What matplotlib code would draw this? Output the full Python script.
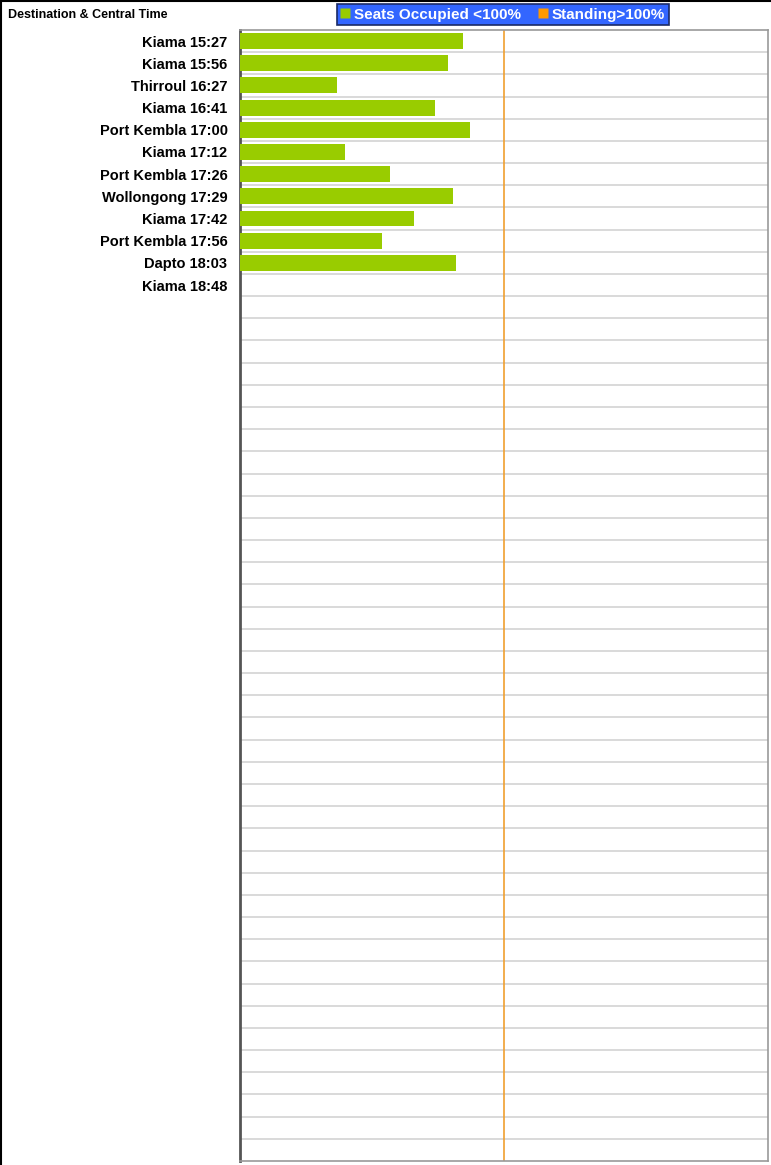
import matplotlib
matplotlib.use("Agg")
import matplotlib.pyplot as plt
from matplotlib.lines import Line2D

plt.rcParams['font.family'] = ['Liberation Sans', 'DejaVu Sans']

labels = ["Kiama 15:27", "Kiama 15:56", "Thirroul 16:27", "Kiama 16:41",
          "Port Kembla 17:00", "Kiama 17:12", "Port Kembla 17:26",
          "Wollongong 17:29", "Kiama 17:42", "Port Kembla 17:56",
          "Dapto 18:03", "Kiama 18:48"]
seats = [84.5, 78.8, 36.7, 73.9, 87.1, 39.8, 56.8, 80.7, 65.9, 53.8, 81.8, 0]
standing = [0, 0, 0, 0, 0, 0, 0, 0, 0, 0, 0, 0]
n_rows = 51
x_max = 200
capacity_line = 100

W, H = 771, 1165
fig = plt.figure(figsize=(W / 100, H / 100), dpi=100)
ax = fig.add_axes([240 / W, 1 - 1161 / H, 528 / W, (1161 - 30) / H])

ys = list(range(len(labels)))
ax.barh(ys, seats, height=0.72, color="#99cc00", zorder=3)
ax.barh(ys, standing, left=seats, height=0.72, color="#ff9900", zorder=3)

ax.set_xlim(0, x_max)
ax.set_ylim(n_rows - 0.5, -0.5)
ax.set_yticks(ys)
ax.set_yticklabels(labels, fontsize=10.5, fontweight="bold")
ax.set_yticks([i + 0.5 for i in range(n_rows - 1)], minor=True)
ax.tick_params(axis="y", which="both", length=0, pad=9)
ax.set_xticks([])
ax.grid(axis="y", which="minor", color="#d0d0d0", linewidth=1.1, zorder=1)
ax.axvline(capacity_line, color="#f0a030", linewidth=1.2, zorder=2)

for s in ["top", "right", "bottom"]:
    ax.spines[s].set_color("#999999")
    ax.spines[s].set_linewidth(1.2)
ax.spines["left"].set_color("#555555")
ax.spines["left"].set_linewidth(2)

fig.text(8 / W, 1 - 14 / H, "Destination & Central Time", fontsize=9,
         fontweight="bold", va="center_baseline", ha="left")

handles = [Line2D([], [], marker="s", linestyle="none", markersize=7,
                  markerfacecolor="#99cc00", markeredgecolor="none"),
           Line2D([], [], marker="s", linestyle="none", markersize=7,
                  markerfacecolor="#ff9900", markeredgecolor="none")]
leg = fig.legend(handles, ["Seats Occupied <100%", "Standing>100%"],
                 loc="center", bbox_to_anchor=(503 / W, 1 - 14.5 / H),
                 ncol=2, frameon=True, fancybox=False,
                 prop={"weight": "bold", "size": 11},
                 handlelength=0.6, handletextpad=0.3,
                 columnspacing=1.1, borderpad=0.22, borderaxespad=0)
leg.get_frame().set_facecolor("#3366ff")
leg.get_frame().set_edgecolor("#1a2a66")
leg.get_frame().set_linewidth(1.2)
leg.get_frame().set_alpha(1)
for t in leg.get_texts():
    t.set_color("white")

fig.add_artist(Line2D([1 / W, 1 / W], [0, 1], color="black", linewidth=1.5,
                      transform=fig.transFigure))
fig.add_artist(Line2D([0, 1], [1 - 1 / H, 1 - 1 / H], color="black", linewidth=1.5,
                      transform=fig.transFigure))

fig.savefig("out.png", dpi=100, facecolor="white")
